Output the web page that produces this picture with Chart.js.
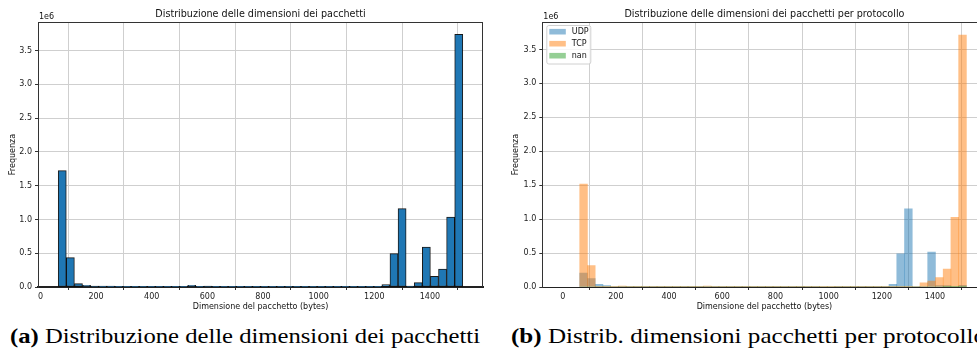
<!DOCTYPE html>
<html>
<head>
<meta charset="utf-8">
<script src="https://cdn.jsdelivr.net/npm/chart.js@4.4.1/dist/chart.umd.min.js"></script>
<style>
html, body { margin: 0; padding: 0; background: #fff; overflow: hidden; width: 977px; height: 356px; }
.wrap { position: absolute; top: 0; height: 320px; }
#wrapA { left: 0; width: 490px; }
#wrapB { left: 490px; width: 510px; }
.caption { position: absolute; top: 326px; font-family: "Liberation Serif", "DejaVu Serif", serif; font-size: 21px; line-height: 21px; white-space: nowrap; transform-origin: 0 0; color: #000; }
</style>
</head>
<body>
<div class="wrap" id="wrapA"><canvas id="chartA" width="490" height="320"></canvas></div>
<div class="wrap" id="wrapB"><canvas id="chartB" width="510" height="320"></canvas></div>
<div class="caption" style="left:10px" data-w="470"><b>(a)</b> Distribuzione delle dimensioni dei pacchetti</div>
<div class="caption" style="left:511px" data-w="475"><b>(b)</b> Distrib. dimensioni pacchetti per protocollo</div>
<script>
// 50 bins between 64 and 1518 bytes (bin centres)
const binCenters = [
  78.5, 107.6, 136.7, 165.8, 194.9, 223.9, 253.0, 282.1, 311.2, 340.3,
  369.3, 398.4, 427.5, 456.6, 485.7, 514.7, 543.8, 572.9, 602.0, 631.1,
  660.1, 689.2, 718.3, 747.4, 776.5, 805.5, 834.6, 863.7, 892.8, 921.9,
  950.9, 980.0, 1009.1, 1038.2, 1067.3, 1096.3, 1125.4, 1154.5, 1183.6, 1212.7,
  1241.7, 1270.8, 1299.9, 1329.0, 1358.1, 1387.1, 1416.2, 1445.3, 1474.4, 1503.5
];

const allCounts = [
  1723000, 435000, 50000, 25000, 14000, 13000, 12000, 5000, 4000, 4000,
  3000, 3000, 3000, 3000, 3000, 4000, 25000, 5000, 14000, 3000,
  3000, 3000, 3000, 2000, 3000, 3000, 3000, 2000, 3000, 3000,
  3000, 9000, 9000, 3000, 3000, 3000, 3000, 3000, 3000, 6000,
  35000, 494000, 1160000, 15000, 65000, 592000, 158000, 267000, 1036000, 3741000
];

const udpCounts = [
  206000, 123000, 40000, 20000, 8000, 3000, 3000, 2000, 2000, 2000,
  2000, 2000, 2000, 2000, 2000, 2000, 2000, 2000, 2000, 2000,
  2000, 2000, 2000, 2000, 2000, 2000, 2000, 2000, 2000, 2000,
  2000, 8000, 8000, 2000, 2000, 2000, 2000, 2000, 2000, 3000,
  40000, 490000, 1151000, 8000, 8000, 514000, 20000, 20000, 8000, 25000
];

const tcpCounts = [
  1518000, 314000, 10000, 6000, 5000, 12000, 6000, 3000, 3000, 3000,
  3000, 3000, 3000, 3000, 3000, 3000, 12000, 3000, 3000, 3000,
  3000, 3000, 3000, 3000, 3000, 3000, 3000, 3000, 3000, 3000,
  3000, 3000, 3000, 3000, 3000, 3000, 3000, 3000, 3000, 3000,
  4000, 5000, 9000, 8000, 60000, 88000, 138000, 264000, 1028000, 3711000
];

const nanCounts = [
  0, 0, 0, 0, 0, 0, 0, 0, 0, 0,
  0, 0, 0, 0, 0, 0, 0, 0, 0, 0,
  0, 0, 0, 0, 0, 0, 0, 0, 0, 0,
  0, 0, 0, 0, 0, 0, 0, 0, 0, 0,
  0, 0, 0, 0, 0, 0, 0, 2000, 3000, 4000
];

const xTicks = [0, 200, 400, 600, 800, 1000, 1200, 1400];
const yTicks = [0, 500000, 1000000, 1500000, 2000000, 2500000, 3000000, 3500000];
const seriesNames = ["UDP", "TCP", "nan"];

const FONT = '"DejaVu Sans", sans-serif';
Chart.defaults.font.family = FONT;
Chart.defaults.color = "#222";

function points(values) {
    return binCenters.map((x, i) => ({ x, y: values[i] }));
}

// title, axis labels, exponent and top/right spines
const framePlugin = {
    id: "frame",
    afterDraw(chart, args, o) {
        const { ctx, chartArea: a } = chart;
        ctx.save();
        ctx.strokeStyle = "#333";
        ctx.lineWidth = 1;
        ctx.beginPath();
        ctx.moveTo(a.left, Math.round(a.top) + 0.5);
        ctx.lineTo(a.right, Math.round(a.top) + 0.5);
        ctx.moveTo(Math.round(a.right) - 0.5, a.top);
        ctx.lineTo(Math.round(a.right) - 0.5, a.bottom);
        ctx.stroke();

        const cx = (a.left + a.right) / 2;
        ctx.fillStyle = "#111";
        ctx.textAlign = "center";
        ctx.textBaseline = "alphabetic";
        ctx.font = "9.6px " + FONT;
        ctx.fillText(o.title, cx, 16.5);
        ctx.font = "8px " + FONT;
        ctx.fillText(o.xLabel, cx, 309);
        ctx.textAlign = "left";
        ctx.fillText("1e6", a.left + 1, 19);
        ctx.translate(o.yLabelX, (a.top + a.bottom) / 2);
        ctx.rotate(-Math.PI / 2);
        ctx.textAlign = "center";
        ctx.textBaseline = "middle";
        ctx.fillText("Frequenza", 0, 0);
        ctx.restore();
    }
};

const legendPlugin = {
    id: "boxLegend",
    afterDraw(chart) {
        const { ctx, chartArea: a } = chart;
        const x0 = a.left + 4.5, y0 = 25.5, w = 44, h = 38.5;
        ctx.save();
        ctx.fillStyle = "rgba(255,255,255,0.8)";
        ctx.strokeStyle = "#d0d0d0";
        ctx.lineWidth = 1;
        ctx.beginPath();
        ctx.roundRect(x0, y0, w, h, 2);
        ctx.fill();
        ctx.stroke();
        ctx.font = "8px " + FONT;
        ctx.textBaseline = "middle";
        ctx.textAlign = "left";
        seriesNames.forEach((name, i) => {
            const y = 31.7 + i * 12;
            ctx.fillStyle = chart.data.datasets[i].backgroundColor;
            ctx.fillRect(x0 + 2.5, y - 2.8, 16.5, 5.6);
            ctx.fillStyle = "#111";
            ctx.fillText(name, x0 + 25, y + 0.5);
        });
        ctx.restore();
    }
};

function scales(xMin, xMax, yMax, yWidth, baseWidth) {
    return {
        x: {
            type: "linear",
            min: xMin,
            max: xMax,
            offset: false,
            z: 1,
            afterBuildTicks: s => { s.ticks = xTicks.map(v => ({ value: v })); },
            afterFit: s => { s.height = 33; },
            ticks: { font: { size: 8 }, padding: 2, maxRotation: 0, callback: v => String(v) },
            grid: { color: "#cfcfcf", tickColor: "#333", tickLength: 3, lineWidth: 1 },
            border: { color: "#222", width: baseWidth }
        },
        y: {
            type: "linear",
            min: 0,
            max: yMax,
            z: 1,
            afterBuildTicks: s => { s.ticks = yTicks.map(v => ({ value: v })); },
            afterFit: s => { s.width = yWidth; },
            ticks: { font: { size: 8 }, padding: 3, callback: v => (v / 1e6).toFixed(1) },
            grid: { color: "#cfcfcf", tickColor: "#333", tickLength: 3, lineWidth: 1 },
            border: { color: "#333", width: 1 }
        }
    };
}

new Chart(document.getElementById("chartA"), {
    type: "bar",
    data: {
        datasets: [{
            label: "Frequenza",
            data: points(allCounts),
            backgroundColor: "#1f77b4",
            borderColor: "rgba(0,0,0,0.9)",
            borderWidth: 1,
            borderSkipped: false,
            barPercentage: 1,
            categoryPercentage: 1
        }]
    },
    options: {
        responsive: false,
        animation: false,
        layout: { padding: { top: 22, right: 7, left: 0, bottom: 0 } },
        plugins: {
            legend: { display: false },
            tooltip: { enabled: false },
            frame: {
                title: "Distribuzione delle dimensioni dei pacchetti",
                xLabel: "Dimensione del pacchetto (bytes)",
                yLabelX: 12.5
            }
        },
        scales: scales(-8.7, 1590.7, 3924000, 38, 2)
    },
    plugins: [framePlugin]
});

const palette = ["rgba(31,119,180,0.5)", "rgba(255,127,14,0.5)", "rgba(44,160,44,0.5)"];
const protoCounts = [udpCounts, tcpCounts, nanCounts];

new Chart(document.getElementById("chartB"), {
    type: "bar",
    data: {
        datasets: protoCounts.map((vals, i) => ({
            label: seriesNames[i],
            data: points(vals),
            backgroundColor: palette[i],
            borderWidth: 0,
            barPercentage: 1,
            categoryPercentage: 1,
            grouped: false,
            order: 3 - i
        }))
    },
    options: {
        responsive: false,
        animation: false,
        layout: { padding: { top: 22, right: 13.4, left: 0, bottom: 0 } },
        plugins: {
            legend: { display: false },
            tooltip: { enabled: false },
            frame: {
                title: "Distribuzione delle dimensioni dei pacchetti per protocollo",
                xLabel: "Dimensione del pacchetto (bytes)",
                yLabelX: 26.3
            }
        },
        scales: scales(-76.7, 1594, 3905000, 52.3, 1)
    },
    plugins: [framePlugin, legendPlugin]
});

for (const el of document.querySelectorAll(".caption")) {
    const w = el.getBoundingClientRect().width;
    el.style.transform = "scaleX(" + (Number(el.dataset.w) / w) + ")";
}
</script>
</body>
</html>
